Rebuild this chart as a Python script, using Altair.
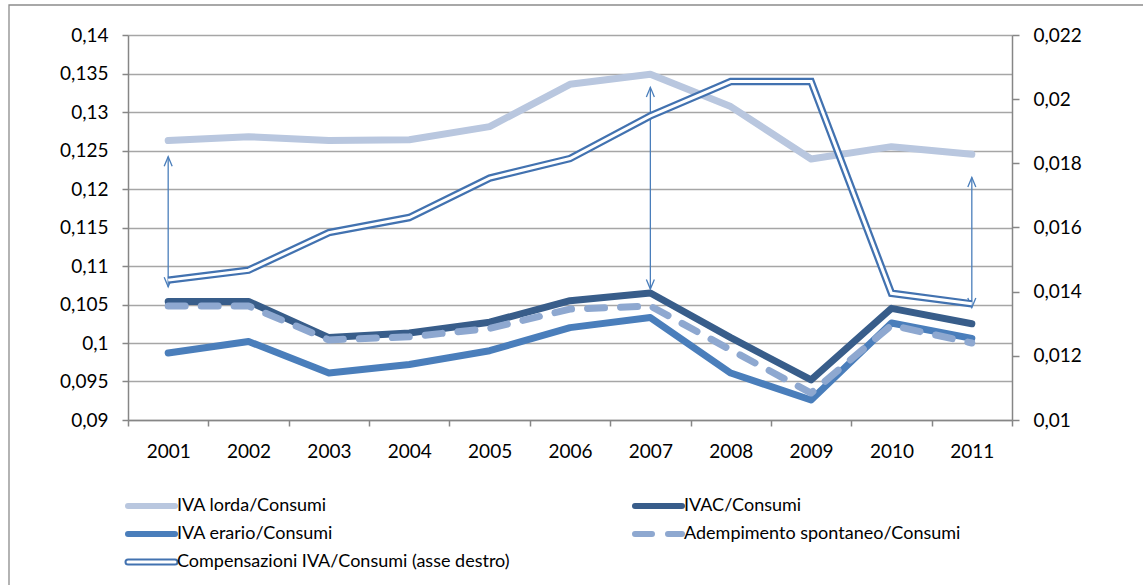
import altair as alt
import pandas as pd

# ---- data -------------------------------------------------------------
years = ["2001", "2002", "2003", "2004", "2005", "2006",
         "2007", "2008", "2009", "2010", "2011"]

iva_lorda = [0.1263, 0.1268, 0.1263, 0.1264, 0.1281, 0.1336,
             0.1349, 0.1307, 0.1239, 0.1255, 0.1245]
ivac = [0.1054, 0.1054, 0.1007, 0.1013, 0.1027, 0.1055,
        0.1065, 0.1007, 0.0952, 0.1045, 0.1025]
iva_erario = [0.0987, 0.1002, 0.0961, 0.0972, 0.0990, 0.1020,
              0.1033, 0.0961, 0.0926, 0.1026, 0.1006]
adempimento = [0.1048, 0.1048, 0.1004, 0.1008, 0.1019, 0.1044,
               0.1048, 0.0991, 0.0935, 0.1023, 0.1000]
# secondary (right) axis
compensazioni = [0.01436, 0.01467, 0.01584, 0.01631, 0.01754, 0.01815,
                 0.01948, 0.02055, 0.02055, 0.01395, 0.01362]

series_names = ["IVA lorda/Consumi", "IVAC/Consumi", "IVA erario/Consumi",
                "Adempimento spontaneo/Consumi",
                "Compensazioni IVA/Consumi (asse destro)"]

left_ticks = [0.09, 0.095, 0.10, 0.105, 0.11, 0.115, 0.12, 0.125, 0.13, 0.135, 0.14]
right_ticks = [0.010, 0.012, 0.014, 0.016, 0.018, 0.020, 0.022]

# double-headed arrows (left-axis units)
arrow_years = ["2001", "2007", "2011"]
arrow_top = [0.1242, 0.1332, 0.1215]
arrow_bottom = [0.1073, 0.1070, 0.1046]

# ---- layout / style ---------------------------------------------------
W, H = 884, 385
PAD_L, PAD_T = 128, 35
FONT = "Lato"
GRID = "#a6a6a6"
AXIS = "#868686"

C_LORDA = "#b9c7df"
C_IVAC = "#385d8a"
C_ERARIO = "#4a7ebb"
C_ADEM = "#8ea8d0"
C_COMP = "#4272b0"
C_ARROW = "#4a7ebb"

fmt = "replace(format(datum.value, ''), '.', ',')"

x_enc = alt.X(
    "year:O",
    scale=alt.Scale(type="band", domain=years, paddingInner=0, paddingOuter=0),
    axis=alt.Axis(title=None, labelAngle=0, tickBand="extent", tickSize=6,
                  tickColor=AXIS, tickWidth=1.5, domainColor=AXIS, domainWidth=1.5,
                  labelPadding=16, labelFont=FONT, labelFontSize=19,
                  labelColor="#000000", grid=False),
)

y_left = alt.Y(
    "value:Q",
    scale=alt.Scale(domain=[0.09, 0.14], nice=False, zero=False),
    axis=alt.Axis(title=None, values=left_ticks, labelExpr=fmt, tickSize=6,
                  tickColor=AXIS, tickWidth=1.5, domainColor=AXIS, domainWidth=1.5,
                  labelPadding=14, labelFont=FONT, labelFontSize=19,
                  labelColor="#000000", grid=True, gridColor=GRID, gridWidth=1.3),
)

y_right = alt.Y(
    "comp:Q",
    scale=alt.Scale(domain=[0.01, 0.022], nice=False, zero=False),
    axis=alt.Axis(title=None, orient="right", values=right_ticks, labelExpr=fmt,
                  tickSize=7, tickColor=AXIS, tickWidth=1.5, domainColor=AXIS,
                  domainWidth=1.5, labelPadding=14, labelFont=FONT,
                  labelFontSize=19, labelColor="#000000", grid=False),
)

rows = []
for name, vals in zip(series_names[:4], [iva_lorda, ivac, iva_erario, adempimento]):
    for y, v in zip(years, vals):
        rows.append({"year": y, "series": name, "value": v})
main_df = pd.DataFrame(rows)
comp_df = pd.DataFrame({"year": years, "comp": compensazioni})
arrow_df = pd.DataFrame({"year": arrow_years, "value": arrow_top, "value2": arrow_bottom})
arrow_top_df = pd.DataFrame({"year": arrow_years, "value": arrow_top})
arrow_bottom_df = pd.DataFrame({"year": arrow_years, "value": arrow_bottom})

styles = {
    series_names[0]: dict(color=C_LORDA, strokeWidth=7),
    series_names[1]: dict(color=C_IVAC, strokeWidth=7),
    series_names[2]: dict(color=C_ERARIO, strokeWidth=7),
    series_names[3]: dict(color=C_ADEM, strokeWidth=7, strokeDash=[17, 16]),
}

base = alt.Chart(main_df)
left_layers = []
for name in series_names[:4]:
    left_layers.append(
        base.transform_filter(alt.datum.series == name)
        .mark_line(strokeCap="round", strokeJoin="round", **styles[name])
        .encode(x=x_enc, y=y_left)
    )

# arrows: shaft plus open arrowheads at both ends
shaft = alt.Chart(arrow_df).mark_rule(color=C_ARROW, strokeWidth=1.3).encode(
    x=x_enc, y=y_left, y2="value2:Q")
head_up = alt.Chart(arrow_top_df).mark_point(
    shape="M -1 2.4 L 0 0 L 1 2.4", filled=False, size=64,
    color=C_ARROW, strokeWidth=1.3, opacity=1).encode(x=x_enc, y=y_left)
head_down = alt.Chart(arrow_bottom_df).mark_point(
    shape="M -1 -2.4 L 0 0 L 1 -2.4", filled=False, size=64,
    color=C_ARROW, strokeWidth=1.3, opacity=1).encode(x=x_enc, y=y_left)

# ---- legend (drawn below the plot area, pixel positions) --------------
leg_col_x = [0, 507]
leg_row_y = [471, 499, 527]
leg_pos = [(0, 0), (1, 0), (0, 1), (1, 1), (0, 2)]
SYM_W = 47

def leg_df(i):
    c, r = leg_pos[i]
    return pd.DataFrame({"lx": [leg_col_x[c]], "lx2": [leg_col_x[c] + SYM_W],
                         "ly": [leg_row_y[r]], "tx": [leg_col_x[c] + SYM_W + 2],
                         "label": [series_names[i]]})

legend_layers = []
for i, name in enumerate(series_names):
    d = leg_df(i)
    enc = dict(x=alt.X("lx:Q", scale=None), x2="lx2:Q", y=alt.Y("ly:Q", scale=None))
    if i < 4:
        st = styles[name]
        legend_layers.append(alt.Chart(d).mark_rule(
            strokeCap="round", color=st["color"], strokeWidth=6,
            **({"strokeDash": st["strokeDash"]} if "strokeDash" in st else {})
        ).encode(**enc))
    else:
        legend_layers.append(alt.Chart(d).mark_rule(
            strokeCap="round", color=C_COMP, strokeWidth=7).encode(**enc))
        legend_layers.append(alt.Chart(d).mark_rule(
            strokeCap="round", color="white", strokeWidth=3).encode(**enc))
    legend_layers.append(alt.Chart(d).mark_text(
        align="left", baseline="middle", font=FONT, fontSize=18, color="#000000"
    ).encode(x=alt.X("tx:Q", scale=None), y=alt.Y("ly:Q", scale=None), text="label:N"))

# outer frame of the chart area
frame = alt.Chart(pd.DataFrame({"k": [0]})).mark_rect(
    fill=None, stroke="#8c8c8c", strokeWidth=1.3).encode(
    x=alt.value(9 - PAD_L), x2=alt.value(W + 200),
    y=alt.value(5 - PAD_T), y2=alt.value(H + 300))

left = alt.layer(*left_layers, shaft, head_up, head_down, *legend_layers, frame)

comp_base = alt.Chart(comp_df)
right = alt.layer(
    comp_base.mark_line(color=C_COMP, strokeWidth=7.5, strokeJoin="miter").encode(x=x_enc, y=y_right),
    comp_base.mark_line(color="white", strokeWidth=3, strokeJoin="miter").encode(x=x_enc, y=y_right),
)

chart = (
    alt.layer(left, right)
    .resolve_scale(y="independent")
    .properties(
        width=W, height=H,
        autosize=alt.AutoSizeParams(type="none"),
        padding={"left": PAD_L, "top": PAD_T, "right": 1143 - PAD_L - W,
                 "bottom": 585 - PAD_T - H},
        background="white",
    )
    .configure_view(stroke=None)
)

chart.save("out.html", embed_options={"renderer": "svg", "actions": False})
